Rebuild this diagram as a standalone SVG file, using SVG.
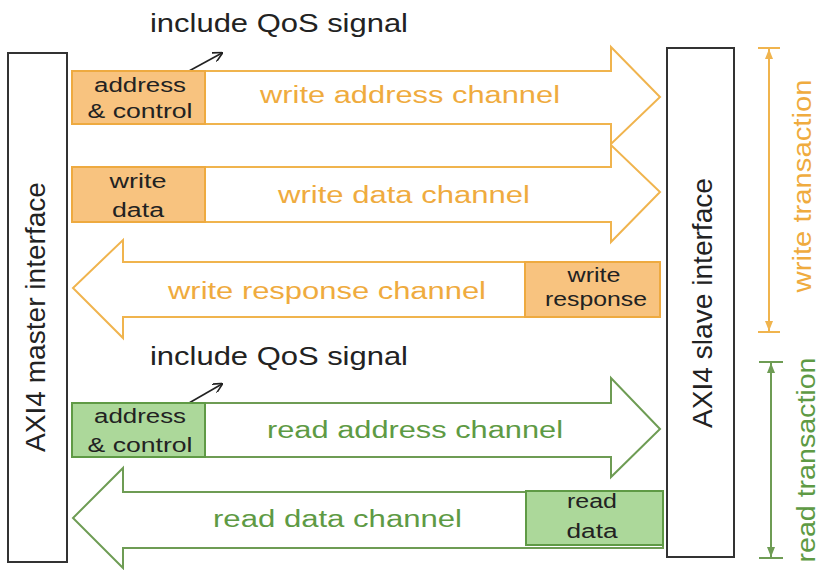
<svg xmlns="http://www.w3.org/2000/svg" width="819" height="570" viewBox="0 0 819 570">
<defs>
<style>
text{font-family:"Liberation Sans",Arial,Helvetica,sans-serif}
.blk{fill:#222}
.or{fill:#efab3e}
.gr{fill:#5e9a44}
.io{fill:#fff;stroke:#333;stroke-width:2}
.oa{fill:#fff;stroke:#f0b44e;stroke-width:2;stroke-linejoin:miter}
.ga{fill:#fff;stroke:#6e9c54;stroke-width:2;stroke-linejoin:miter}
.ob{fill:#f8c37f;stroke:#eeaa40;stroke-width:2}
.gb{fill:#acd89a;stroke:#5f9a45;stroke-width:2}
.q{stroke:#222;stroke-width:1.6;fill:none}
</style>
<marker id="open" viewBox="0 0 10 10" refX="9" refY="5" markerWidth="10" markerHeight="10" orient="auto" markerUnits="userSpaceOnUse">
<path d="M0,0 L10,5 L0,10" fill="none" stroke="#222" stroke-width="1.6"/>
</marker>
<marker id="oh" viewBox="0 0 10 10" refX="10" refY="5" markerWidth="10" markerHeight="10" orient="auto-start-reverse" markerUnits="userSpaceOnUse">
<path d="M0,1 L10,5 L0,9 z" fill="#f0b44e"/>
</marker>
<marker id="gh" viewBox="0 0 10 10" refX="10" refY="5" markerWidth="10" markerHeight="10" orient="auto-start-reverse" markerUnits="userSpaceOnUse">
<path d="M0,1 L10,5 L0,9 z" fill="#6e9c54"/>
</marker>
</defs>
<rect width="819" height="570" fill="#fff"/>

<g id="master">
<rect class="io" x="8" y="53" width="59" height="509"/>
<text class="blk" transform="translate(45,317) rotate(-90)" text-anchor="middle" font-size="27" textLength="270" lengthAdjust="spacingAndGlyphs">AXI4 master interface</text>
</g>

<g id="slave">
<rect class="io" x="667" y="48" width="67" height="509"/>
<text class="blk" transform="translate(712,303) rotate(-90)" text-anchor="middle" font-size="27" textLength="250" lengthAdjust="spacingAndGlyphs">AXI4 slave interface</text>
</g>

<g id="connectors">
<polygon id="write-address-channel" class="oa" points="72,71 611,71 611,47 660,97 611,144 611,124 72,124"/>
<polygon id="write-data-channel" class="oa" points="72,167 611,167 611,145 660,192 611,242 611,222 72,222"/>
<polygon id="write-response-channel" class="oa" points="660,262 123,262 123,240 73,288 123,338 123,317 660,317"/>
<polygon id="read-address-channel" class="ga" points="72,403 611,403 611,378 660,429 611,477 611,457 72,457"/>
<polygon id="read-data-channel" class="ga" points="663,492 123,492 123,468 73,518 123,568 123,548 663,548"/>
<line class="q" x1="189" y1="71" x2="222" y2="53" marker-end="url(#open)"/>
<line class="q" x1="189" y1="403" x2="222" y2="384" marker-end="url(#open)"/>
<line x1="769" y1="49" x2="769" y2="331" stroke="#f0b44e" stroke-width="2" marker-start="url(#oh)" marker-end="url(#oh)"/>
<line x1="758" y1="48" x2="780" y2="48" stroke="#f0b44e" stroke-width="2"/>
<line x1="758" y1="332" x2="780" y2="332" stroke="#f0b44e" stroke-width="2"/>
<line x1="771" y1="363" x2="771" y2="557" stroke="#6e9c54" stroke-width="2" marker-start="url(#gh)" marker-end="url(#gh)"/>
<line x1="759" y1="362" x2="783" y2="362" stroke="#6e9c54" stroke-width="2"/>
<line x1="759" y1="558" x2="783" y2="558" stroke="#6e9c54" stroke-width="2"/>
</g>

<g id="qos-top">
<text class="blk" x="150" y="32" font-size="26" textLength="258" lengthAdjust="spacingAndGlyphs">include QoS signal</text>
</g>
<g id="qos-bottom">
<text class="blk" x="150" y="365" font-size="26" textLength="258" lengthAdjust="spacingAndGlyphs">include QoS signal</text>
</g>

<g id="wa-box">
<rect class="ob" x="72" y="71" width="133" height="53"/>
<text class="blk" x="140" y="92" text-anchor="middle" font-size="20" textLength="92" lengthAdjust="spacingAndGlyphs">address</text>
<text class="blk" x="140" y="118" text-anchor="middle" font-size="20" textLength="105" lengthAdjust="spacingAndGlyphs">&amp; control</text>
</g>
<g id="wa-label">
<text class="or" x="260" y="103" font-size="23" textLength="300" lengthAdjust="spacingAndGlyphs">write address channel</text>
</g>

<g id="wd-box">
<rect class="ob" x="72" y="167" width="133" height="55"/>
<text class="blk" x="138" y="188" text-anchor="middle" font-size="20" textLength="57" lengthAdjust="spacingAndGlyphs">write</text>
<text class="blk" x="138" y="217" text-anchor="middle" font-size="20" textLength="52" lengthAdjust="spacingAndGlyphs">data</text>
</g>
<g id="wd-label">
<text class="or" x="278" y="203" font-size="23" textLength="252" lengthAdjust="spacingAndGlyphs">write data channel</text>
</g>

<g id="wr-box">
<rect class="ob" x="525" y="262" width="135" height="55"/>
<text class="blk" x="594" y="282" text-anchor="middle" font-size="20" textLength="53" lengthAdjust="spacingAndGlyphs">write</text>
<text class="blk" x="596" y="306" text-anchor="middle" font-size="20" textLength="102" lengthAdjust="spacingAndGlyphs">response</text>
</g>
<g id="wr-label">
<text class="or" x="168" y="299" font-size="23" textLength="318" lengthAdjust="spacingAndGlyphs">write response channel</text>
</g>

<g id="ra-box">
<rect class="gb" x="72" y="403" width="133" height="54"/>
<text class="blk" x="140" y="423" text-anchor="middle" font-size="20" textLength="92" lengthAdjust="spacingAndGlyphs">address</text>
<text class="blk" x="140" y="452" text-anchor="middle" font-size="20" textLength="105" lengthAdjust="spacingAndGlyphs">&amp; control</text>
</g>
<g id="ra-label">
<text class="gr" x="267" y="438" font-size="23" textLength="296" lengthAdjust="spacingAndGlyphs">read address channel</text>
</g>

<g id="rd-box">
<rect class="gb" x="526" y="491" width="137" height="54"/>
<text class="blk" x="592" y="508" text-anchor="middle" font-size="20" textLength="50" lengthAdjust="spacingAndGlyphs">read</text>
<text class="blk" x="592" y="538" text-anchor="middle" font-size="20" textLength="51" lengthAdjust="spacingAndGlyphs">data</text>
</g>
<g id="rd-label">
<text class="gr" x="213" y="527" font-size="23" textLength="249" lengthAdjust="spacingAndGlyphs">read data channel</text>
</g>

<g id="write-transaction">
<text class="or" transform="translate(811,186) rotate(-90)" text-anchor="middle" font-size="25" textLength="213" lengthAdjust="spacingAndGlyphs">write transaction</text>
</g>
<g id="read-transaction">
<text class="gr" transform="translate(815,460) rotate(-90)" text-anchor="middle" font-size="25" textLength="205" lengthAdjust="spacingAndGlyphs">read transaction</text>
</g>
</svg>
